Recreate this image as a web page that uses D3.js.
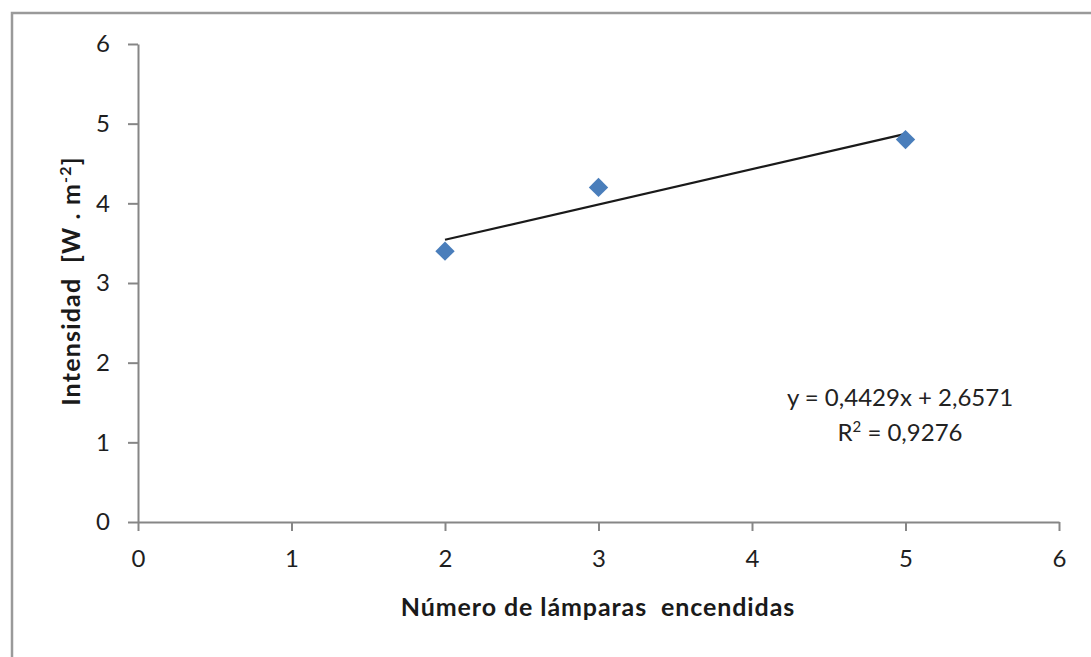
<!DOCTYPE html>
<html><head><meta charset="utf-8">
<script src="https://cdn.jsdelivr.net/npm/d3@7"></script>
<style>body{margin:0;background:#fff}text{font-family:Lato,"Open Sans",sans-serif}</style>
</head><body><svg id="c" width="1091" height="657"></svg>
<script>
const xValues = [2, 3, 5];
const yValues = [3.4, 4.2, 4.8];
const xTicks = [0, 1, 2, 3, 4, 5, 6];
const yTicks = [0, 1, 2, 3, 4, 5, 6];
const slope = 0.4429, intercept = 2.6571;
const eqLabel = "y = 0,4429x + 2,6571";
const r2Label = "= 0,9276";

const svg = d3.select("#c");
svg.append("rect").attr("x", 12).attr("y", 13).attr("width", 1100).attr("height", 700)
  .attr("fill", "#fff").attr("stroke", "#9a9a9a").attr("stroke-width", 2.5);

const x = d3.scaleLinear().domain([0, 6]).range([138, 1059]);
const y = d3.scaleLinear().domain([0, 6]).range([522, 44]);

const xAxis = svg.append("g").attr("transform", "translate(0,522)")
  .call(d3.axisBottom(x).tickValues(xTicks).tickFormat(d3.format("d")).tickSize(9).tickSizeOuter(0).tickPadding(16));
const yAxis = svg.append("g").attr("transform", "translate(138,0)")
  .call(d3.axisLeft(y).tickValues(yTicks).tickFormat(d3.format("d")).tickSize(10).tickSizeOuter(0).tickPadding(18));
[xAxis, yAxis].forEach(a => {
  a.select(".domain").attr("stroke", "#868686").attr("stroke-width", 2);
  a.selectAll(".tick line").attr("stroke", "#868686").attr("stroke-width", 2);
  a.selectAll(".tick text").attr("fill", "#1e1e1e").style("font-size", "24px").style("font-family", "Lato, 'Open Sans', sans-serif");
});
xAxis.selectAll(".tick text").attr("dy", "0.85em");

// trendline
svg.append("line")
  .attr("x1", x(d3.min(xValues))).attr("y1", y(slope * d3.min(xValues) + intercept))
  .attr("x2", x(d3.max(xValues))).attr("y2", y(slope * d3.max(xValues) + intercept))
  .attr("stroke", "#1a1a1a").attr("stroke-width", 2.2);

// points
const pts = xValues.map((v, i) => [v, yValues[i]]);
svg.selectAll("path.pt").data(pts).enter().append("path").attr("class", "pt")
  .attr("d", d3.symbol().type(d3.symbolDiamond2).size(240))
  .attr("transform", d => `translate(${x(d[0])},${y(d[1])})`)
  .attr("fill", "#4a7ebb");

// axis titles
svg.append("text").attr("x", 598).attr("y", 616).attr("text-anchor", "middle")
  .style("font-size", "25px").style("font-weight", "bold").style("letter-spacing", "0.9px")
  .style("white-space", "pre").attr("fill", "#1a1a1a")
  .text("Número de lámparas  encendidas");
const yt = svg.append("text").attr("transform", "translate(80,281) rotate(-90)").attr("text-anchor", "middle")
  .style("font-size", "25px").style("font-weight", "bold").style("letter-spacing", "1.2px").attr("fill", "#1a1a1a")
  .style("white-space", "pre");
yt.append("tspan").text("Intensidad  [W . m");
yt.append("tspan").attr("dy", -9).style("font-size", "16px").text("-2");
yt.append("tspan").attr("dy", 9).text("]");

// equation
svg.append("text").attr("x", 900).attr("y", 406).attr("text-anchor", "middle")
  .style("font-size", "24px").attr("fill", "#222").text(eqLabel);
const r2 = svg.append("text").attr("x", 900).attr("y", 441).attr("text-anchor", "middle")
  .style("font-size", "24px").attr("fill", "#222");
r2.append("tspan").text("R");
r2.append("tspan").attr("dy", -9).style("font-size", "15px").text("2");
r2.append("tspan").attr("dy", 9).text(" " + r2Label);
</script></body></html>
